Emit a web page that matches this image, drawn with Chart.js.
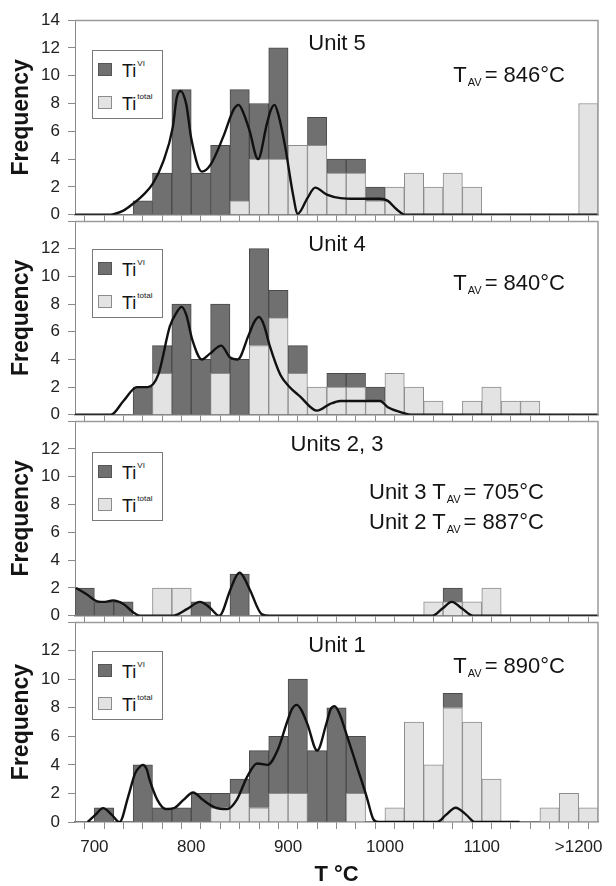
<!DOCTYPE html>
<html>
<head>
<meta charset="utf-8">
<script src="https://cdn.jsdelivr.net/npm/chart.js@4.4.1/dist/chart.umd.min.js"></script>
<style>
html,body{margin:0;padding:0;background:#fff;width:616px;height:886px;overflow:hidden;font-family:"Liberation Sans",Arial,sans-serif;color:#141414;}
#wrap{position:relative;width:616px;height:886px;}
canvas{position:absolute;left:0;}
.ov{position:absolute;z-index:5;white-space:nowrap;line-height:1;}
.ptitle{font-size:22px;transform:translate(-50%,-50%);}
.tav{font-size:22px;transform:translateY(-50%);}
.tav .sub{font-size:11px;position:relative;top:4px;margin:0 3px 0 1px;}
.legend{position:absolute;z-index:5;border:1px solid #7a7a7a;background:#fff;width:71px;height:69px;box-sizing:border-box;}
.legend .sw{position:absolute;left:5px;width:14px;height:13px;box-sizing:border-box;border:1px solid #555;}
.legend .lt{position:absolute;left:29px;font-size:18px;line-height:1;}
.legend .lt sup{font-size:8px;position:relative;top:-2px;vertical-align:top;margin-left:1px;}
</style>
</head>
<body>
<div id="wrap"></div>
<script>
// ---- bins (20 °C wide) ----
const binEdges   = [680,700,720,740,760,780,800,820,840,860,880,900,920,940,960,980,1000,1020,1040,1060,1080,1100,1120,1140,1160,1180,1200,1220];
const binCentres = [690,710,730,750,770,790,810,830,850,870,890,910,930,950,970,990,1010,1030,1050,1070,1090,1110,1130,1150,1170,1190,1210];
const xTickValues = [700,800,900,1000,1100,1200];
const xTickText   = ['700','800','900','1000','1100','>1200'];

// ---- Unit 5 ----
const unit5TiVI    = [0,0,0,1,3,9,3,5,8,4,8,0,2,1,1,1,0,0,0,0,0,0,0,0,0,0,0];
const unit5TiTotal = [0,0,0,0,0,0,0,0,1,4,4,5,5,3,3,1,2,3,2,3,2,0,0,0,0,0,8];
const unit5CurveT  = [680,715,720,730,740,750,760,771,781,785,789,795,800,811,820,833,844,849,854,860,869,878,882,886,890,897,905,910,920,928,940,954,970,995,1003,1012,1021,1220];
const unit5CurveF  = [0,0,0.05,0.3,0.8,1.4,2.2,3.8,6.3,8.4,8.9,7.9,5.5,3.1,3.6,5.6,7.6,7.9,7.3,6.1,4.0,6.5,7.5,7.9,7.2,4.9,1.5,0.07,1.2,1.95,1.45,1.2,1.15,1.15,1.0,0.4,0,0];

// ---- Unit 4 ----
const unit4TiVI    = [0,0,0,2,2,8,4,5,4,7,2,2,0,1,1,1,0,0,0,0,0,0,0,0,0,0,0];
const unit4TiTotal = [0,0,0,0,3,0,0,3,0,5,7,3,2,2,2,1,3,2,1,0,1,2,1,1,0,0,0];
const unit4CurveT  = [680,717,730,744,755,766,778,785,790,795,801,811,819,831,840,848,859,865,870,875,881,892,901,912,930,943,954,995,1003,1016,1029,1220];
const unit4CurveF  = [0,0,1.0,2.0,2.0,2.9,6.4,7.4,7.8,7.2,5.45,4.0,4.4,5.0,4.15,4.0,5.7,6.7,7.06,6.5,5.0,2.9,2.05,1.35,0.3,0.77,1.0,1.0,0.55,0.2,0,0];

// ---- Units 2, 3 ----
const unit23TiVI    = [2,1,1,0,0,0,1,0,3,0,0,0,0,0,0,0,0,0,0,1,0,0,0,0,0,0,0];
const unit23TiTotal = [0,0,0,0,2,2,0,0,0,0,0,0,0,0,0,0,0,0,1,1,1,2,0,0,0,0,0];
const unit23CurveT  = [681,692,703,711,719,730,740,747,781,796,809,819,829,840,846,850,854,861,873,881,1049,1059,1069,1080,1091,1220];
const unit23CurveF  = [2.0,1.55,1.04,1.0,1.1,0.85,0.26,0,0,0.5,1.0,0.6,0,1.8,2.8,3.1,2.8,1.8,0.1,0,0,0.5,1.0,0.5,0,0];

// ---- Unit 1 ----
const unit1TiVI    = [0,1,0,4,1,1,2,1,1,4,4,8,5,8,4,0,0,0,0,1,0,0,0,0,0,0,0];
const unit1TiTotal = [0,0,0,0,0,0,0,1,2,1,2,2,0,0,2,0,1,7,4,8,7,3,0,0,1,2,1];
const unit1CurveT  = [693,701,709,718,726,735,742,746,750,754,757,765,774,783,792,802,812,825,837,847,858,868,879,889,899,904,909,914,920,930,940,944,948,953,961,971,981,988,993,1054,1063,1073,1084,1093,1139];
const unit1CurveF  = [0,0.5,0.97,0.5,0,1.8,3.4,3.8,4.0,3.7,2.96,1.55,0.9,1.0,1.55,2.07,1.55,1.0,0.9,1.55,3.2,4.1,4.0,5.0,7.0,7.9,8.2,7.8,6.85,5.0,7.0,7.9,8.1,7.6,6.0,3.9,1.8,0.2,0,0,0.5,1.0,0.5,0,0];

const DARK = '#707070', DARK_B = '#4a4a4a';
const LIGHT = '#e3e3e3', LIGHT_B = '#8c8c8c';

Chart.defaults.font.family = '"Liberation Sans", Arial, sans-serif';

const panels = [
  {top:20,  bottom:221, title:'Unit 5',     show14:true,  last:false, vi:unit5TiVI,  tot:unit5TiTotal,  ct:unit5CurveT,  cf:unit5CurveF,  legendTop:50,
   tav:[{html:'T<span class="sub">AV</span>= 846°C', right:565, cy:75}]},
  {top:221, bottom:421, title:'Unit 4',     show14:false, last:false, vi:unit4TiVI,  tot:unit4TiTotal,  ct:unit4CurveT,  cf:unit4CurveF,  legendTop:249,
   tav:[{html:'T<span class="sub">AV</span>= 840°C', right:565, cy:283}]},
  {top:421, bottom:622, title:'Units 2, 3', show14:false, last:false, vi:unit23TiVI, tot:unit23TiTotal, ct:unit23CurveT, cf:unit23CurveF, legendTop:452,
   tav:[{html:'Unit 3 T<span class="sub">AV</span>= 705°C', left:369, cy:492},{html:'Unit 2 T<span class="sub">AV</span>= 887°C', left:369, cy:522}]},
  {top:622, bottom:822, title:'Unit 1',     show14:false, last:true,  vi:unit1TiVI,  tot:unit1TiTotal,  ct:unit1CurveT,  cf:unit1CurveF,  legendTop:651,
   tav:[{html:'T<span class="sub">AV</span>= 890°C', right:565, cy:666}]}
];

const framePlugin = {
  id:'frame',
  afterDatasetsDraw(chart){
    const {ctx, chartArea:a} = chart;
    ctx.save();
    ctx.strokeStyle = '#9a9a9a'; ctx.lineWidth = 1.5;
    ctx.beginPath();
    ctx.moveTo(a.left, a.top + 0.5);
    ctx.lineTo(a.right, a.top + 0.5);
    ctx.lineTo(a.right, a.bottom);
    ctx.stroke();
    ctx.restore();
  }
};

const wrap = document.getElementById('wrap');

panels.forEach(p => {
  const cTop = p.top - 20;
  const xH = p.last ? 64 : 12;
  const cH = p.last ? (886 - cTop) : (p.bottom - p.top + 20 + xH);
  const canvas = document.createElement('canvas');
  canvas.width = 616; canvas.height = cH;
  canvas.style.top = cTop + 'px';
  canvas.style.width = '616px'; canvas.style.height = cH + 'px';
  wrap.appendChild(canvas);

  new Chart(canvas.getContext('2d'), {
    type:'bar',
    data:{datasets:[
      {label:'Ti total', data:binCentres.map((x,i)=>({x, y:p.tot[i]})), backgroundColor:LIGHT, borderColor:LIGHT_B, borderWidth:1,
       stack:'bars', order:1, barPercentage:1, categoryPercentage:1},
      {label:'Ti VI', data:binCentres.map((x,i)=>({x, y:p.vi[i]})), backgroundColor:DARK, borderColor:DARK_B, borderWidth:1,
       stack:'bars', order:1, barPercentage:1, categoryPercentage:1},
      {type:'line', label:'density', data:p.ct.map((x,i)=>({x, y:p.cf[i]})), borderColor:'#111', borderWidth:2.4,
       pointRadius:0, cubicInterpolationMode:'monotone', fill:false, stack:'curve', order:0}
    ]},
    options:{
      responsive:false, animation:false, devicePixelRatio:1,
      layout:{padding:{top:20, right:18, left:0, bottom:0}},
      plugins:{legend:{display:false}, tooltip:{enabled:false}},
      scales:{
        x:{type:'linear', min:680, max:1220, offset:false,
           afterBuildTicks:s=>{ s.ticks = binEdges.map(v=>({value:v})); },
           afterFit:s=>{ s.height = xH; },
           ticks:{display:p.last, autoSkip:false, maxRotation:0, minRotation:0, padding:8, color:'#222', font:{size:17},
                  callback:v=>{ const k = xTickValues.indexOf(v); return k >= 0 ? xTickText[k] : ''; }},
           grid:{drawOnChartArea:false, drawTicks:true, tickLength:7, color:'#8a8a8a'},
           border:{color:'#7a7a7a', width:1.5},
           title:{display:p.last, text:'T °C', color:'#141414', font:{size:22, weight:'bold', lineHeight:1}, padding:{top:0, bottom:0}}
        },
        y:{min:0, max:14, stacked:true,
           afterFit:s=>{ s.width = 75; },
           ticks:{stepSize:2, padding:8, color:'#222', font:{size:17},
                  callback:v=> (v === 14 && !p.show14) ? '' : String(v)},
           grid:{drawOnChartArea:false, drawTicks:true, tickLength:7, color:'#8a8a8a'},
           border:{color:'#8a8a8a', width:1},
           title:{display:true, text:'Frequency', color:'#141414', font:{size:23, weight:'bold'}, padding:{top:8, bottom:0}}
        }
      }
    },
    plugins:[framePlugin]
  });

  // panel title
  const t = document.createElement('div');
  t.className = 'ov ptitle';
  t.style.left = '337px'; t.style.top = (p.top + 23) + 'px';
  t.textContent = p.title;
  wrap.appendChild(t);

  // average temperature notes
  p.tav.forEach(a => {
    const d = document.createElement('div');
    d.className = 'ov tav';
    d.innerHTML = a.html;
    if (a.right !== undefined) d.style.right = (616 - a.right) + 'px';
    else d.style.left = a.left + 'px';
    d.style.top = a.cy + 'px';
    wrap.appendChild(d);
  });

  // legend
  const lg = document.createElement('div');
  lg.className = 'legend';
  lg.style.left = '92px'; lg.style.top = p.legendTop + 'px';
  lg.innerHTML =
    '<div class="sw" style="top:12px;background:' + DARK + '"></div>' +
    '<div class="lt" style="top:11px">Ti<sup>VI</sup></div>' +
    '<div class="sw" style="top:45px;background:' + LIGHT + ';border-color:' + LIGHT_B + '"></div>' +
    '<div class="lt" style="top:44px">Ti<sup>total</sup></div>';
  wrap.appendChild(lg);
});
</script>
</body>
</html>
